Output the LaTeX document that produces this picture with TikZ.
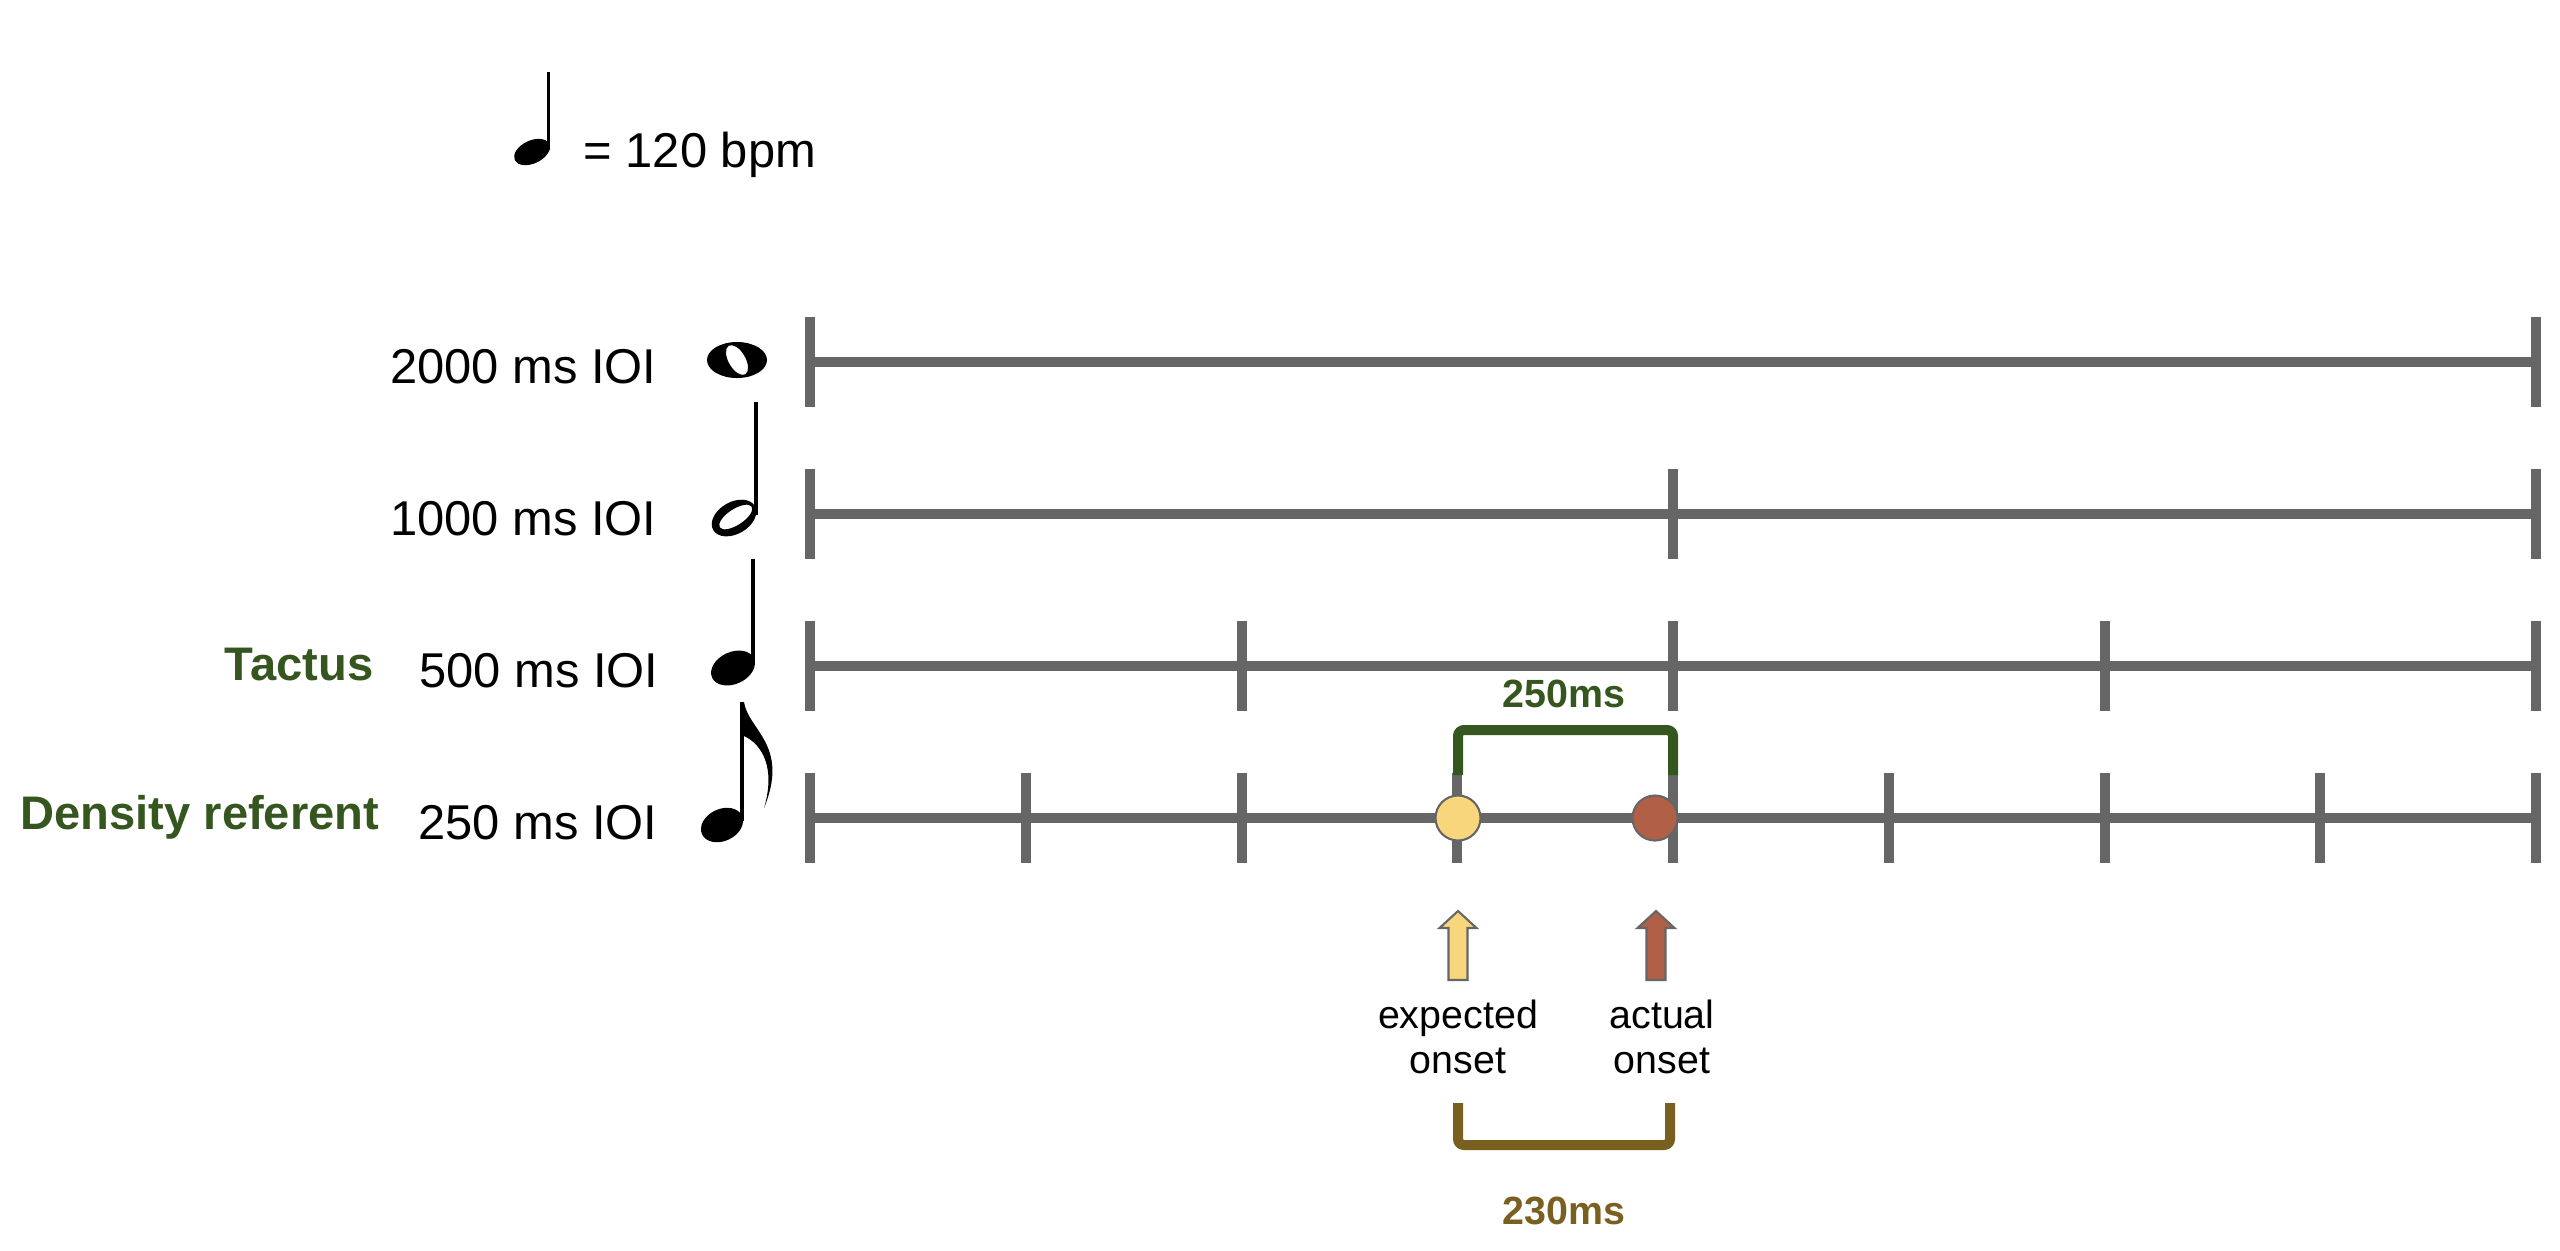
\documentclass[tikz,border=0pt]{standalone}
\usepackage{fontspec}
\setmainfont{Liberation Sans}
\usetikzlibrary{positioning}
\definecolor{tlgray}{HTML}{666666}
\definecolor{tacgreen}{HTML}{35561E}
\definecolor{gapbrown}{HTML}{7A6020}
\definecolor{expyellow}{HTML}{F8D67C}
\definecolor{actred}{HTML}{B25F48}
\tikzset{
  timeline/.style={tlgray, line width=2.85pt},
  rowlabel/.style={anchor=base east, inner sep=0, font=\fontsize{13.9}{16}\selectfont},
  levellabel/.style={anchor=base east, inner sep=0, text=tacgreen,
    font=\fontsize{13.4}{16}\selectfont\bfseries},
  onset/.style={circle, draw=tlgray, line width=0.6pt, minimum size=0.45cm, inner sep=0},
  bracket/.style={line width=2.85pt, rounded corners=0.06cm},
  gaplabel/.style={inner sep=0, font=\fontsize{11.2}{13}\selectfont\bfseries},
  caption/.style={inner sep=0, align=center, font=\fontsize{11.2}{13}\selectfont},
  uparr/.style={draw=tlgray, line width=0.6pt},
  notehead/.style={fill=black},
}
\begin{document}
\begin{tikzpicture}[x=0.01cm, y=0.01cm]
    \useasboundingbox (0,0) rectangle (2560,-1250);
    % tempo
    \fill[notehead, rotate around={25:(532,-152)}] (532,-152) ellipse (19 and 11.5);
    \fill (546.5,-150) rectangle (549.5,-72);
    \node[rowlabel, anchor=base west] (bpm) at (583,-167) {= 120 bpm};
    % metrical levels
    \foreach \ry/\nd [count=\r] in {362/1, 514/2, 666/4, 818/8} {
        \coordinate (row\r-a) at (810,-\ry);
        \coordinate (row\r-b) at (2536,-\ry);
        \draw[timeline] (row\r-a) -- (row\r-b);
        \foreach \k in {0,...,\nd}
            \draw[timeline] ({810+\k*1726/\nd},{-\ry+45}) -- ++(0,-90);
    }
    \node[rowlabel] (lab2000) at (657,-383) {2000 ms IOI};
    \node[rowlabel] (lab1000) at (657,-535) {1000 ms IOI};
    \node[rowlabel] (lab500) at (659,-687) {500 ms IOI};
    \node[rowlabel] (lab250) at (658,-839) {250 ms IOI};
    \node[levellabel] (tactus) at (374,-680) {Tactus};
    \node[levellabel] (density) at (380,-829) {Density referent};
    % whole note
    \fill[even odd rule] (737,-360) ellipse (30 and 18)
        [rotate around={30:(737,-360)}] (737,-360) ellipse (8.5 and 16.5);
    % half note
    \fill[notehead, even odd rule, rotate around={30:(734,-518)}] (734,-518) ellipse (24 and 16)
        [rotate around={3:(736,-518)}] (736,-518) ellipse (19 and 8);
    \fill (754,-515) rectangle (758,-402);
    % quarter note
    \fill[notehead, rotate around={25:(733,-668)}] (733,-668) ellipse (23 and 16);
    \fill (751,-664) rectangle (755,-559);
    % eighth note
    \fill[notehead, rotate around={25:(722,-825)}] (722,-825) ellipse (22 and 16);
    \fill (739.5,-821) rectangle (744,-702);
    \fill (744,-702) .. controls (748,-730) and (790,-745) .. (764,-808)
        .. controls (776,-768) and (762,-744) .. (744,-736) -- cycle;
    % deviation
    \coordinate (exp) at (1458,-818);
    \coordinate (act) at (1673,-818);
    \draw[bracket, tacgreen] (1458,-775) |- (1673,-730) -- (1673,-775);
    \node[gaplabel, text=tacgreen] (iv250) at (1564,-694) {250ms};
    \node[onset, fill=expyellow] (expdot) at (exp) {};
    \node[onset, fill=actred] (actdot) at (1655,-818) {};
    \coordinate (exparr) at (1458,-980);
    \coordinate (actarr) at (1656,-980);
    \filldraw[uparr, fill=expyellow] (exparr) ++(-9.5,0) -- ++(0,52) -- ++(-9,0)
        -- ++(18.5,17) -- ++(18.5,-17) -- ++(-9,0) -- ++(0,-52) -- cycle;
    \filldraw[uparr, fill=actred] (actarr) ++(-9.5,0) -- ++(0,52) -- ++(-9,0)
        -- ++(18.5,17) -- ++(18.5,-17) -- ++(-9,0) -- ++(0,-52) -- cycle;
    \node[caption] (expected) at (1458,-1037) {expected\\onset};
    \node[caption] (actual) at (1662,-1037) {actual\\onset};
    \draw[bracket, gapbrown] (1458,-1103) |- (1670,-1145) -- (1670,-1103);
    \node[gaplabel, text=gapbrown] (iv230) at (1564,-1211) {230ms};
\end{tikzpicture}
\end{document}
